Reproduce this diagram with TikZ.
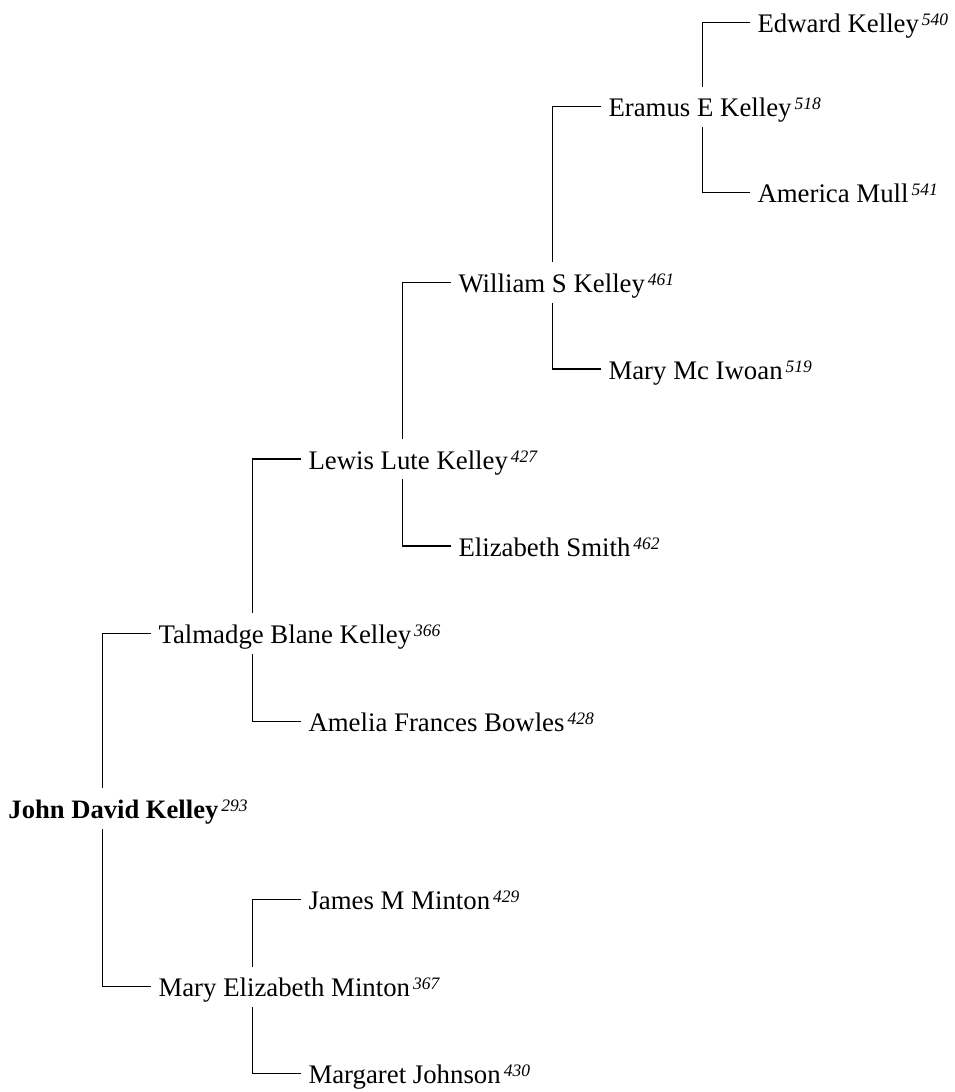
\documentclass[tikz,border=0pt]{standalone}
\usepackage{fontspec}
\setmainfont{Liberation Serif}
\newcommand\gennum[1]{\hspace{3pt}\raisebox{7pt}{\fontsize{17.5}{18}\selectfont\itshape #1}}
\tikzset{
  person/.style={anchor=west, inner xsep=7pt, inner ysep=10pt, text height=20pt, text depth=0pt,
    font=\fontsize{26.8}{30}\selectfont},
  link/.style={draw=black, line width=1.1pt}
}
\begin{document}
\begin{tikzpicture}[x=1pt,y=-1pt]
\useasboundingbox (0,0) rectangle (954,1092);
% level 0
\node[person, font=\fontsize{26.6}{30}\selectfont\bfseries] (john) at (1.3,808.3) {John David Kelley\gennum{\mdseries 293}};
% level 1
\node[person] (talmadge) at (151.3,633.3) {Talmadge Blane Kelley\gennum{366}};
\node[person] (marye) at (151.3,986.7) {Mary Elizabeth Minton\gennum{367}};
% level 2
\node[person] (lewis) at (301.3,459) {Lewis Lute Kelley\gennum{427}};
\node[person] (amelia) at (301.3,721.7) {Amelia Frances Bowles\gennum{428}};
\node[person] (james) at (301.3,899.3) {James M Minton\gennum{429}};
\node[person] (margaret) at (301.3,1073.5) {Margaret Johnson\gennum{430}};
% level 3
\node[person] (william) at (451.3,282.3) {William S Kelley\gennum{461}};
\node[person] (elizabeth) at (451.3,546) {Elizabeth Smith\gennum{462}};
% level 4
\node[person] (eramus) at (601.3,106.7) {Eramus E Kelley\gennum{518}};
\node[person] (marymc) at (601.3,369) {Mary Mc Iwoan\gennum{519}};
% level 5
\node[person] (edward) at (750.3,22.7) {Edward Kelley\gennum{540}};
\node[person] (america) at (750.3,192.3) {America Mull\gennum{541}};
% connectors
\draw[link] (talmadge.west) -| ([xshift=101pt]john.north west);
\draw[link] (marye.west) -| ([xshift=101pt]john.south west);
\draw[link] (lewis.west) -| ([xshift=101pt]talmadge.north west);
\draw[link] (amelia.west) -| ([xshift=101pt]talmadge.south west);
\draw[link] (james.west) -| ([xshift=101pt]marye.north west);
\draw[link] (margaret.west) -| ([xshift=101pt]marye.south west);
\draw[link] (william.west) -| ([xshift=101pt]lewis.north west);
\draw[link] (elizabeth.west) -| ([xshift=101pt]lewis.south west);
\draw[link] (eramus.west) -| ([xshift=101pt]william.north west);
\draw[link] (marymc.west) -| ([xshift=101pt]william.south west);
\draw[link] (edward.west) -| ([xshift=101pt]eramus.north west);
\draw[link] (america.west) -| ([xshift=101pt]eramus.south west);
\end{tikzpicture}
\end{document}
